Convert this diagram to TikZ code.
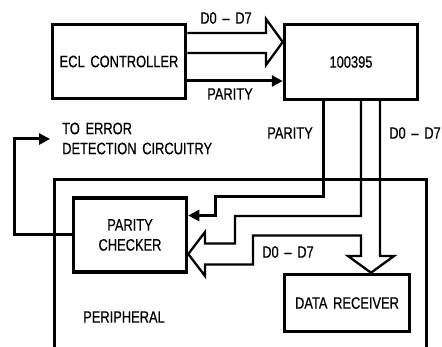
\documentclass[tikz,border=0pt]{standalone}
\usepackage{fontspec}
\setsansfont[FakeStretch=0.78,WordSpace=1.6,FakeBold=0.6]{Liberation Sans}
\usetikzlibrary{arrows.meta}
\begin{document}
\begin{tikzpicture}[x=1pt,y=-1pt,
  every node/.style={font=\sffamily\fontsize{16.5}{20}\selectfont},
  box/.style={draw, line width=3.5pt, inner sep=0pt},
  lbl/.style={inner sep=0pt},
  bus/.style={draw, line width=2.3pt, line join=miter},
  sig/.style={draw, line width=3pt, -{Triangle[length=11pt,width=11pt]}},
]
\useasboundingbox (0,0) rectangle (442,347);
% boxes
\node[box, minimum width=133pt, minimum height=74pt] (ecl) at (119,61.5) {ECL CONTROLLER};
\node[box, minimum width=133pt, minimum height=75pt] (chip) at (351,62) {100395};
\node[box, minimum width=113pt, minimum height=74pt, align=center] (pc) at (130,235) {PARITY\\CHECKER};
\node[box, minimum width=125pt, minimum height=57pt] (dr) at (347,303) {DATA RECEIVER};
% peripheral (open at bottom)
\coordinate (perBL) at (54.5,347);
\coordinate (perBR) at (426.5,347);
\draw[line width=3.5pt] (perBL) -- (54.5,179.5) -- (426.5,179.5) -- (perBR);
\node[lbl] (perlbl) at (124,317) {PERIPHERAL};
% labels
\node[lbl] (l1) at (226,18) {D0 – D7};
\node[lbl] (l2) at (230,94) {PARITY};
\node[lbl] (l3) at (290,133) {PARITY};
\node[lbl] (l4) at (415,133) {D0 – D7};
\node[lbl] (l5) at (288,252) {D0 – D7};
\node[lbl, anchor=west, align=left] (err) at (62,138.5) {TO ERROR\\DETECTION CIRCUITRY};
% hollow bus arrow ECL -> 100395
\path[bus] (ecl.east |- 0,33) -- (266,33) -- (266,19) -- (chip.west |- 0,42)
  -- (266,65) -- (266,53) -- (ecl.east |- 0,53);
% parity arrow ECL -> 100395
\draw[sig] (ecl.east |- 0,81) -- (chip.west |- 0,81);
% parity 100395 -> parity checker
\draw[sig] (chip.south -| 323,0) -- (323,196.5) -- (215,196.5) -- (215,215.5) -- (pc.east |- 0,215.5);
% data bus 100395 -> parity checker and data receiver
\path[bus] (chip.south -| 361,0) -- (361,216) -- (235,216) -- (235,243.5) -- (205,243.5)
  -- (205,232) -- (pc.east |- 0,254) -- (205,276) -- (205,264.5) -- (253,264.5)
  -- (253,235.5) -- (361,235.5) -- (361,256) -- (348,256) -- (dr.north -| 371,0)
  -- (394,256) -- (380,256) -- (chip.south -| 380,0);
% feedback to error detection
\coordinate (errtip) at (50,139);
\draw[sig] (pc.west |- 0,235) -- (14,235) -- (14,139) -- (errtip);
\end{tikzpicture}
\end{document}
